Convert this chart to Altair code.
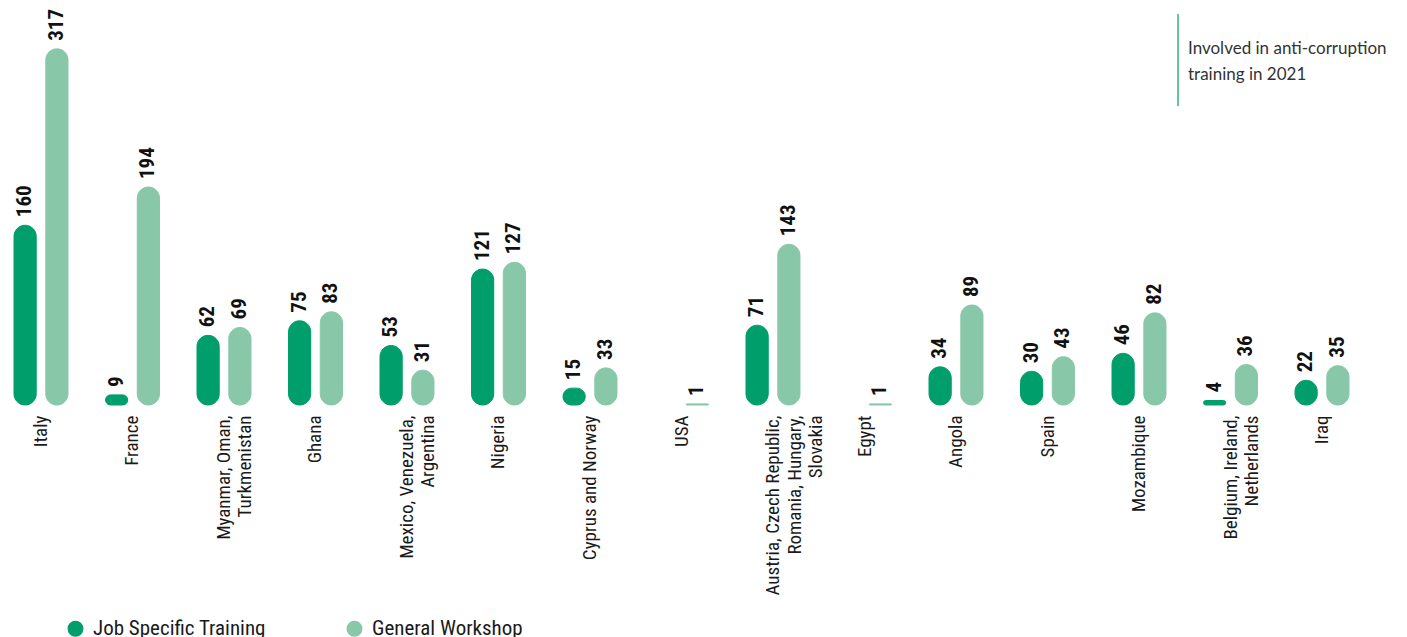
import altair as alt
import pandas as pd

categories = [
    "Italy", "France", "Myanmar, Oman,\nTurkmenistan", "Ghana",
    "Mexico, Venezuela,\nArgentina", "Nigeria", "Cyprus and  Norway", "USA",
    "Austria, Czech Republic,\nRomania, Hungary,\nSlovakia", "Egypt", "Angola",
    "Spain", "Mozambique", "Belgium, Ireland,\nNetherlands", "Iraq",
]
job_specific = [160, 9, 62, 75, 53, 121, 15, None, 71, None, 34, 30, 46, 4, 22]
general_workshop = [317, 194, 69, 83, 31, 127, 33, 1, 143, 1, 89, 43, 82, 36, 35]
series = ["Job Specific Training", "General Workshop"]
colors = ["#009E6B", "#88C8A8"]
note_lines = ["Involved in anti-corruption", "training in 2021"]

rows = []
for c, j, g in zip(categories, job_specific, general_workshop):
    if j is not None:
        rows.append({"country": c, "series": series[0], "value": j})
    if g is not None:
        rows.append({"country": c, "series": series[1], "value": g})
df = pd.DataFrame(rows)

COND = "Liberation Sans Narrow, Roboto Condensed, DejaVu Sans Condensed, Roboto, sans-serif"

x_enc = alt.X(
    "country:N", sort=categories,
    scale=alt.Scale(paddingInner=0.41, paddingOuter=0),
    axis=alt.Axis(
        title=None, labelAngle=-90, labelAlign="right", labelBaseline="middle",
        labelPadding=10, labelFontSize=19, labelFont=COND, labelColor="#1a1a1a",
        labelLineHeight=21.5, labelLimit=400, ticks=False, domain=False,
        labelExpr="split(datum.label, '\\n')",
    ),
)
xoff_enc = alt.XOffset("series:N", sort=series,
                       scale=alt.Scale(paddingInner=0.30, paddingOuter=0))
y_enc = alt.Y("value:Q", scale=alt.Scale(domain=[0, 348]), axis=None)

color_scale = alt.Scale(domain=series, range=colors)

base = alt.Chart(df)

bars = base.mark_bar(cornerRadius=11.5, strokeWidth=1).encode(
    x=x_enc, xOffset=xoff_enc, y=y_enc,
    stroke=alt.Stroke("series:N", sort=series, scale=color_scale, legend=None),
    color=alt.Color(
        "series:N", sort=series, scale=color_scale,
        legend=alt.Legend(
            title=None, orient="none", legendX=51, legendY=604,
            direction="horizontal", symbolType="circle", symbolSize=254,
            symbolStrokeWidth=0, labelFontSize=21, labelFont=COND,
            labelColor="#1a1a1a", labelOffset=7, labelLimit=400,
            columnPadding=78, padding=0,
        ),
    ),
)

labels = base.mark_text(
    angle=270, align="left", baseline="middle", dx=8,
    font=COND, fontWeight="bold", fontSize=21, color="#111111",
).encode(x=x_enc, xOffset=xoff_enc, y=y_enc, text=alt.Text("value:Q"))

rule = alt.Chart(pd.DataFrame({"n": [0]})).mark_rule(
    color="#2DB37A", strokeWidth=1.5
).encode(x=alt.value(1164), y=alt.value(0), y2=alt.value(92))

note = alt.Chart(pd.DataFrame({"n": [0]})).mark_text(
    text=note_lines, align="left", baseline="alphabetic", lineHeight=26,
    font="Lato", fontSize=17, color="#333333",
).encode(x=alt.value(1174), y=alt.value(40))

chart = alt.layer(bars, labels, rule, note).properties(
    width=1335, height=391,
    padding={"left": 5, "top": 0, "right": 5, "bottom": 0},
).configure_view(stroke=None)

chart.save("out.html", embed_options={"renderer": "svg", "actions": False})
